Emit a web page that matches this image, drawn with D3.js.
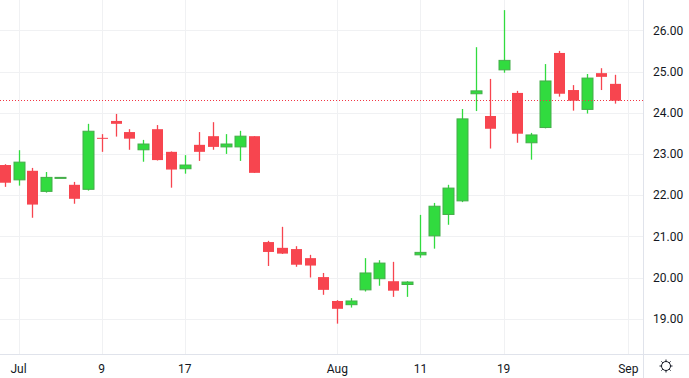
<!DOCTYPE html>
<html>
<head>
<meta charset="utf-8">
<script src="https://cdn.jsdelivr.net/npm/d3@7"></script>
<style>
  body { margin: 0; background: #fff; }
  svg { display: block; font-family: Roboto, "Noto Sans", sans-serif; }
</style>
</head>
<body>
<div id="chart"></div>
<script>
// daily bars, Jun 30 - Aug 29
var dates = ["2025-06-30",
  "2025-07-01","2025-07-02","2025-07-03","2025-07-04","2025-07-07","2025-07-08","2025-07-09","2025-07-10","2025-07-11",
  "2025-07-14","2025-07-15","2025-07-16","2025-07-17","2025-07-18","2025-07-21","2025-07-22","2025-07-23","2025-07-24",
  "2025-07-25","2025-07-28","2025-07-29","2025-07-30","2025-07-31",
  "2025-08-01","2025-08-04","2025-08-05","2025-08-06","2025-08-07","2025-08-08","2025-08-11","2025-08-12","2025-08-13",
  "2025-08-14","2025-08-15","2025-08-18","2025-08-19","2025-08-20","2025-08-21","2025-08-22","2025-08-25","2025-08-26",
  "2025-08-27","2025-08-28","2025-08-29"];
var opens  = [22.73,22.37,22.59,22.09,22.42,22.25,22.14,23.39,23.80,23.53,23.10,23.60,23.05,22.64,23.22,23.43,23.17,23.17,23.43,
              20.86,20.72,20.69,20.47,20.01,19.43,19.34,19.70,19.97,19.91,19.83,20.55,21.01,21.53,21.86,24.46,23.92,25.04,24.48,
              23.27,23.64,25.45,24.55,24.08,24.96,24.70];
var highs  = [22.75,23.09,22.66,22.56,22.44,22.32,23.73,23.48,23.97,23.60,23.34,23.70,23.06,22.97,23.53,23.77,23.48,23.56,23.43,
              20.89,21.23,20.76,20.55,20.11,19.45,19.50,20.47,20.42,20.38,19.91,21.52,21.81,22.25,24.09,25.59,24.82,26.49,24.53,
              23.51,25.18,25.50,24.67,24.94,25.08,24.92];
var lows   = [22.20,22.23,21.45,22.06,22.42,21.79,22.11,23.05,23.42,23.10,22.81,22.84,22.18,22.52,22.83,23.10,23.00,22.83,22.54,
              20.28,20.57,20.26,20.00,19.58,18.88,19.27,19.66,19.80,19.53,19.53,20.48,20.70,21.28,21.83,24.04,23.13,24.97,23.27,
              22.86,23.62,24.39,24.05,23.98,24.55,24.22];
var closes = [22.30,22.80,21.77,22.43,22.43,21.91,23.55,23.37,23.73,23.37,23.24,22.85,22.62,22.73,23.05,23.17,23.24,23.43,22.54,
              20.62,20.58,20.31,20.29,19.70,19.24,19.43,20.11,20.35,19.68,19.89,20.61,21.73,22.17,23.85,24.53,23.61,25.27,23.49,
              23.46,24.77,24.46,24.29,24.84,24.87,24.29];
var priceTicks = [19, 20, 21, 22, 23, 24, 25, 26];
// date labels: bar index (45 = next session, Sep 1)
var timeTicks = [
  {i: 1, label: "Jul"}, {i: 7, label: "9"}, {i: 13, label: "17"}, {i: 24, label: "Aug"},
  {i: 30, label: "11"}, {i: 36, label: "19"}, {i: 45, label: "Sep"}
];

var width = 689, height = 378,
    plotW = 643, plotH = 354;

var upColor = "#31db3f", upBorder = "#45ad4a", downColor = "#f7454f";

var bars = dates.map(function(d, i) {
  return {date: d, o: opens[i], h: highs[i], l: lows[i], c: closes[i]};
});

var x = d3.scaleLinear().domain([0, 44]).range([4.7, 614.5]);
var y = d3.scaleLinear().domain([19, 26]).range([318.7, 30.3]);

var svg = d3.select("#chart").append("svg")
  .attr("width", width)
  .attr("height", height);

// grid
svg.append("g").selectAll("line")
  .data(priceTicks)
  .enter().append("line")
    .attr("x1", 0).attr("x2", plotW)
    .attr("y1", function(d) { return Math.round(y(d)) + 0.5; })
    .attr("y2", function(d) { return Math.round(y(d)) + 0.5; })
    .attr("stroke", "#f0f1f3");

svg.append("g").selectAll("line")
  .data(timeTicks)
  .enter().append("line")
    .attr("x1", function(d) { return Math.round(x(d.i)) + 0.5; })
    .attr("x2", function(d) { return Math.round(x(d.i)) + 0.5; })
    .attr("y1", 0).attr("y2", plotH)
    .attr("stroke", "#f0f1f3");

// candles
var bw = 11;
var candle = svg.append("g").selectAll("g")
  .data(bars)
  .enter().append("g");

candle.append("line")
  .attr("x1", function(d, i) { return Math.round(x(i)) + 0.5; })
  .attr("x2", function(d, i) { return Math.round(x(i)) + 0.5; })
  .attr("y1", function(d) { return y(d.h); })
  .attr("y2", function(d) { return y(d.l); })
  .attr("stroke", function(d) { return d.c >= d.o ? upColor : downColor; })
  .attr("stroke-width", 1.3);

candle.append("rect")
  .attr("x", function(d, i) { return Math.round(x(i)) + 0.5 - bw / 2; })
  .attr("y", function(d) { return y(Math.max(d.o, d.c)); })
  .attr("width", bw)
  .attr("height", function(d) { return Math.max(1, Math.abs(y(d.o) - y(d.c))); })
  .attr("fill", function(d) { return d.c >= d.o ? upColor : downColor; })
  .attr("stroke", function(d) { return d.c >= d.o ? upBorder : "none"; })
  .attr("stroke-width", 1);

// last price line, drawn over the candles
var last = bars[bars.length - 1].c;
svg.append("line")
  .attr("x1", 0).attr("x2", plotW)
  .attr("y1", Math.floor(y(last)) + 0.5).attr("y2", Math.floor(y(last)) + 0.5)
  .attr("stroke", "#f23645")
  .attr("stroke-width", 1)
  .attr("shape-rendering", "crispEdges")
  .attr("stroke-dasharray", "1,2");

// axis frame
svg.append("line")
  .attr("x1", plotW + 0.5).attr("x2", plotW + 0.5)
  .attr("y1", 0).attr("y2", height)
  .attr("stroke", "#e0e3eb");
svg.append("line")
  .attr("x1", 0).attr("x2", width)
  .attr("y1", plotH + 0.5).attr("y2", plotH + 0.5)
  .attr("stroke", "#e0e3eb");

// price labels
svg.append("g").selectAll("text")
  .data(priceTicks)
  .enter().append("text")
    .attr("x", 653)
    .attr("y", function(d) { return y(d); })
    .attr("dy", "0.35em")
    .attr("font-size", 12)
    .attr("fill", "#131722")
    .text(function(d) { return d3.format(".2f")(d); });

// date labels
svg.append("g").selectAll("text")
  .data(timeTicks)
  .enter().append("text")
    .attr("x", function(d) { return x(d.i); })
    .attr("y", 369)
    .attr("dy", "0.35em")
    .attr("text-anchor", "middle")
    .attr("font-size", 12)
    .attr("fill", "#131722")
    .text(function(d) { return d.label; });

// settings gear
var gear = svg.append("g")
  .attr("transform", "translate(666,366)")
  .attr("stroke", "#131722")
  .attr("fill", "none")
  .attr("stroke-width", 1);
gear.append("circle").attr("r", 4.5);
d3.range(8).forEach(function(k) {
  var a = k * Math.PI / 4;
  gear.append("line")
    .attr("x1", Math.cos(a) * 4.5).attr("y1", Math.sin(a) * 4.5)
    .attr("x2", Math.cos(a) * 6.5).attr("y2", Math.sin(a) * 6.5);
});
</script>
</body>
</html>
